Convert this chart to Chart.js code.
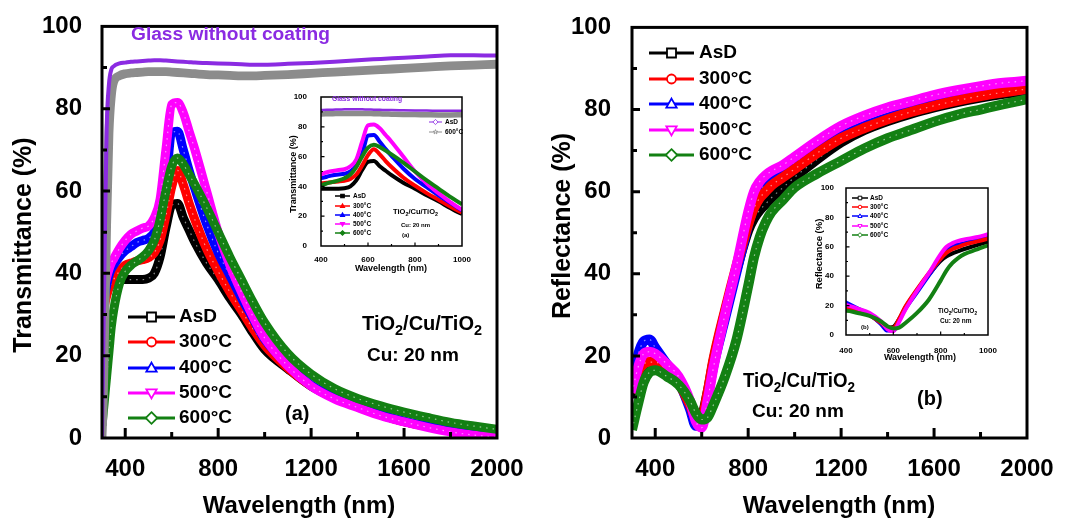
<!DOCTYPE html>
<html>
<head>
<meta charset="utf-8">
<script src="https://cdn.jsdelivr.net/npm/chart.js@4.4.1/dist/chart.umd.min.js"></script>
<style>
  body { margin: 0; background: #fff; }
  #page { position: relative; width: 1067px; height: 519px; overflow: hidden; background: #fff; }
  canvas { position: absolute; }
</style>
</head>
<body>
<div id="page">
  <canvas id="transChart" width="540" height="519" style="left:0;top:0"></canvas>
  <canvas id="reflChart" width="527" height="519" style="left:540px;top:0"></canvas>
  <canvas id="transInset" width="195" height="190" style="left:280px;top:85px"></canvas>
  <canvas id="reflInset" width="195" height="195" style="left:805px;top:176px"></canvas>
</div>
<script>
// Series labels / colours
const seriesLabels = ['AsD', '300°C', '400°C', '500°C', '600°C'];
const seriesColors = ['#000000', '#ff0000', '#0000ff', '#ff00ff', '#138013'];
const seriesShapes = ['square', 'circle', 'triUp', 'triDown', 'diamond'];
const glassPurple = '#8b2be2';
const glassGray = '#8c8c8c';

// Transmittance (panel a)
const wlT = [300, 305, 310, 320, 330, 340, 350, 375, 400, 425, 450, 475, 500, 525, 550, 575, 600, 625, 650, 675,
             700, 750, 800, 850, 900, 950, 1000, 1100, 1200, 1300, 1400, 1500, 1600, 1700, 1800, 1900, 2000];
const glassBare = [0, 20, 40, 75, 86, 89.5, 90.3, 91, 91.2, 91.4, 91.5, 91.6, 91.7, 91.8, 91.8, 91.7, 91.6, 91.5, 91.4, 91.3,
                   91.2, 91.1, 91, 90.9, 90.8, 90.7, 90.7, 90.9, 91.1, 91.4, 91.8, 92.1, 92.4, 92.7, 93, 93, 92.9];
const glass600 = [0, 8, 22, 52, 74, 83, 86.5, 88, 88.5, 88.7, 88.8, 88.9, 89, 89, 89, 89, 88.9, 88.8, 88.7, 88.6,
                  88.5, 88.3, 88.2, 88.1, 88, 88, 88.1, 88.3, 88.6, 88.9, 89.2, 89.5, 89.8, 90.1, 90.4, 90.6, 90.8];
const transAsD = [30, 31.5, 33, 35, 36.5, 37.5, 38, 38.5, 38.5, 38.5, 38.5, 38.5, 38.8, 40, 44, 51, 56.5, 57, 53.5, 50.5,
                  47.5, 42.5, 38.5, 34, 30, 25.5, 21.5, 16.8, 12.6, 9.8, 7.6, 5.6, 4, 2.8, 1.7, 0.9, 0.3];
const trans300 = [28, 30, 32, 34.5, 36.5, 37.5, 38.5, 40.5, 42, 42.5, 43, 43.3, 43.8, 45, 48, 54, 61, 65, 61.5, 57,
                  53, 46, 40.5, 35.5, 31, 26.5, 22.5, 17, 12.7, 9.8, 7.6, 5.6, 4, 2.8, 1.7, 0.9, 0.3];
const trans400 = [30, 32, 34, 37, 39.5, 41, 42, 44, 45.5, 46.5, 47.5, 48, 48.5, 50, 54, 62, 74, 74.5, 70, 65,
                  60.5, 52, 45, 39.5, 34, 29, 24, 17.8, 12.9, 9.9, 7.7, 5.7, 4.1, 2.9, 1.8, 1, 0.4];
const trans500 = [32, 34, 36, 39, 41, 42.5, 43.5, 46, 48, 49.5, 50.3, 51, 51.5, 53.5, 58, 70, 81, 81.5, 79, 74.5,
                  70, 60, 50, 42, 35.5, 29.5, 24.3, 17.5, 12.6, 9.5, 7.4, 5.4, 3.9, 2.6, 1.5, 0.7, 0.2];
const trans600 = [3, 6, 9, 15, 21, 27, 31, 37.5, 40.5, 42, 43, 44, 45.5, 48, 53, 60, 66, 68, 66.5, 64,
                  61.5, 56, 50, 44, 38.5, 33, 28, 20.5, 15.5, 12, 9.6, 7.8, 6.3, 5, 3.8, 2.9, 2.1];

// Reflectance (panel b)
const wlR = [300, 325, 350, 375, 400, 450, 500, 550, 575, 600, 625, 650, 700, 750, 800, 825, 850, 875, 900, 950,
             1000, 1100, 1200, 1300, 1400, 1500, 1600, 1700, 1800, 1900, 2000];
const reflAsD = [10, 15, 17.5, 18, 17.5, 16, 13.5, 8, 5, 5.5, 11, 18.5, 30.5, 41, 50.5, 53.5, 55.5, 57, 58.5, 61,
                 63.5, 68, 72, 75, 77.2, 79, 80.5, 81.8, 82.9, 83.8, 84.5];
const refl300 = [11, 16, 18, 18.5, 18.5, 16.5, 13.5, 8, 5, 5, 11, 19, 31, 42, 52, 56, 58.5, 60, 61.5, 63.5,
                 65.5, 69.5, 73, 75.5, 77.6, 79.4, 80.9, 82.2, 83.3, 84.2, 85];
const refl400 = [13, 20, 23.5, 24, 22, 18, 14, 7, 3, 3, 10, 17.5, 29, 40.5, 52, 57.5, 60.5, 61.5, 62.5, 64.5,
                 67, 70.5, 73.5, 76, 78, 79.8, 81.3, 82.6, 83.6, 84.4, 85];
const refl500 = [11, 17, 20.5, 21, 20.5, 18, 15, 9, 4, 2.5, 9, 17, 30, 42, 55, 60, 62.5, 64, 65, 66.5,
                 68.5, 72.5, 76, 78.5, 80.5, 82, 83.5, 84.7, 85.7, 86.5, 87];
const refl600 = [2, 8, 13.5, 16, 16.5, 15, 13, 9, 6, 4.5, 5, 8, 15, 24, 37, 44, 49, 52.5, 55, 58,
                 61, 64.5, 67.5, 70.5, 73, 75, 77, 78.7, 80, 81.3, 82.5];

// Ticks
const xTickLabels = [400, 800, 1200, 1600, 2000];
const xMinorTicks = [600, 1000, 1400, 1800];
const yTickLabels = [0, 20, 40, 60, 80, 100];
const yMinorTicks = [10, 30, 50, 70, 90];
const insetXTickLabels = [400, 600, 800, 1000];
const insetXMinorTicks = [500, 700, 900];

const FONT = '"Liberation Sans", Arial, sans-serif';
const fontStr = (size, weight) => `${weight || 'bold'} ${size}px ${FONT}`;
const pts = (xs, ys) => xs.map((x, i) => ({ x: x, y: ys[i] }));

function drawMarker(ctx, shape, x, y, r, stroke, fill, lw) {
  ctx.beginPath();
  if (shape === 'square') {
    ctx.rect(x - r, y - r, 2 * r, 2 * r);
  } else if (shape === 'circle') {
    ctx.arc(x, y, r, 0, Math.PI * 2);
  } else if (shape === 'triUp') {
    ctx.moveTo(x, y - r * 1.2); ctx.lineTo(x + r * 1.15, y + r * 0.8); ctx.lineTo(x - r * 1.15, y + r * 0.8); ctx.closePath();
  } else if (shape === 'triDown') {
    ctx.moveTo(x, y + r * 1.2); ctx.lineTo(x + r * 1.15, y - r * 0.8); ctx.lineTo(x - r * 1.15, y - r * 0.8); ctx.closePath();
  } else if (shape === 'diamond') {
    ctx.moveTo(x, y - r * 1.3); ctx.lineTo(x + r * 1.3, y); ctx.lineTo(x, y + r * 1.3); ctx.lineTo(x - r * 1.3, y); ctx.closePath();
  } else if (shape === 'star') {
    for (let k = 0; k < 10; k++) {
      const rr = k % 2 ? r * 0.45 : r * 1.2;
      const a = -Math.PI / 2 + k * Math.PI / 5;
      k ? ctx.lineTo(x + rr * Math.cos(a), y + rr * Math.sin(a)) : ctx.moveTo(x + rr * Math.cos(a), y + rr * Math.sin(a));
    }
    ctx.closePath();
  }
  ctx.fillStyle = fill; ctx.fill();
  ctx.strokeStyle = stroke; ctx.lineWidth = lw; ctx.stroke();
}

function drawText(ctx, t) {
  const parts = t.parts || [[t.text, 0]];
  const subSize = t.size * 0.72;
  ctx.save();
  ctx.fillStyle = t.color || '#000';
  ctx.textBaseline = 'middle';
  ctx.textAlign = 'left';
  let total = 0;
  const widths = parts.map(([s, sub]) => {
    ctx.font = fontStr(sub ? subSize : t.size, t.weight);
    const w = ctx.measureText(s).width;
    total += w;
    return w;
  });
  ctx.translate(t.x, t.y);
  if (t.rot) ctx.rotate(t.rot * Math.PI / 180);
  if (t.w) ctx.scale(t.w / total, 1);
  let x = t.align === 'center' ? -total / 2 : 0;
  parts.forEach(([s, sub], i) => {
    ctx.font = fontStr(sub ? subSize : t.size, t.weight);
    ctx.fillText(s, x, sub ? t.size * 0.32 : 0);
    x += widths[i];
  });
  ctx.restore();
}

function drawLegend(ctx, L) {
  L.items.forEach((it, i) => {
    const y = L.ys[i];
    ctx.strokeStyle = it.color; ctx.lineWidth = L.lw;
    ctx.beginPath(); ctx.moveTo(L.x1, y); ctx.lineTo(L.x2, y); ctx.stroke();
    drawMarker(ctx, it.shape, (L.x1 + L.x2) / 2, y, L.r, it.color, L.filled ? it.color : '#fff', L.mlw || L.lw * 0.7);
    ctx.fillStyle = '#000'; ctx.font = fontStr(L.size); ctx.textBaseline = 'middle'; ctx.textAlign = 'left';
    ctx.fillText(it.label, L.lx, y);
  });
}

// frame, inward ticks, legends and labels
function decor(cfg) {
  return {
    id: 'decor',
    afterDraw(chart) {
      const ctx = chart.ctx, a = chart.chartArea, xs = chart.scales.x, ys = chart.scales.y;
      ctx.save();
      ctx.strokeStyle = '#000';
      ctx.lineWidth = cfg.tickWidth;
      ctx.beginPath();
      cfg.xMajor.concat(cfg.xMinor).forEach(v => {
        const px = xs.getPixelForValue(v);
        const len = cfg.xMajor.includes(v) ? cfg.xLen[0] : cfg.xLen[1];
        ctx.moveTo(px, a.bottom); ctx.lineTo(px, a.bottom - len);
      });
      cfg.yMajor.concat(cfg.yMinor).forEach(v => {
        const py = ys.getPixelForValue(v);
        const len = cfg.yMajor.includes(v) ? cfg.yLen[0] : cfg.yLen[1];
        ctx.moveTo(a.left, py); ctx.lineTo(a.left + len, py);
      });
      ctx.stroke();
      ctx.lineWidth = cfg.frame;
      ctx.strokeRect(a.left, a.top, a.right - a.left, a.bottom - a.top);
      (cfg.legends || []).forEach(L => drawLegend(ctx, L));
      (cfg.texts || []).forEach(t => drawText(ctx, t));
      ctx.restore();
    }
  };
}

function makeChart(id, opt) {
  const tickFont = { family: FONT, size: opt.tickSize, weight: 'bold' };
  return new Chart(document.getElementById(id), {
    type: 'line',
    data: { datasets: opt.datasets },
    options: {
      responsive: false,
      animation: false,
      events: [],
      layout: { padding: opt.pad },
      elements: {
        point: { radius: 0 },
        line: { cubicInterpolationMode: 'monotone', borderCapStyle: 'butt', borderJoinStyle: 'round' }
      },
      plugins: { legend: { display: false }, tooltip: { enabled: false } },
      scales: {
        x: {
          type: 'linear', min: opt.xMin, max: opt.xMax,
          grid: { display: false }, border: { display: false },
          afterFit: s => { s.height = opt.xH; },
          afterBuildTicks: s => { s.ticks = opt.xLabels.map(v => ({ value: v })); },
          ticks: { padding: opt.xPad, autoSkip: false, maxRotation: 0, color: '#000', font: tickFont, callback: v => String(v) }
        },
        y: {
          type: 'linear', min: 0, max: 100,
          grid: { display: false }, border: { display: false },
          afterFit: s => { s.width = opt.yW; },
          afterBuildTicks: s => { s.ticks = yTickLabels.map(v => ({ value: v })); },
          ticks: { padding: opt.yPad, color: '#000', font: tickFont, callback: v => String(v) }
        }
      }
    },
    plugins: [decor(opt.decor)]
  });
}

const transSeries = [transAsD, trans300, trans400, trans500, trans600];
const reflSeries = [reflAsD, refl300, refl400, refl500, refl600];
const transOrder = [8, 6, 4, 2, 0];
const reflOrder = [8, 4, 6, 2, 0];

// thick band per series plus a faint dotted white core to hint at the open markers
function seriesSets(xs, series, order, width, texture) {
  const sets = [];
  series.forEach((vals, i) => {
    sets.push({ data: pts(xs, vals), borderColor: seriesColors[i], borderWidth: width, order: order[i], clip: 0 });
    if (texture) {
      sets.push({ data: pts(xs, vals), borderColor: 'rgba(255,255,255,0.55)', borderWidth: 1.2,
                  borderDash: [1.5, 5], order: order[i] - 1, clip: 0 });
    }
  });
  return sets;
}
function glassSets(width) {
  return [
    { data: pts(wlT, glass600), borderColor: glassGray, borderWidth: width * 2.2, order: -1, clip: 0 },
    { data: pts(wlT, glassBare), borderColor: glassPurple, borderWidth: width, order: -2, clip: 0 }
  ];
}

const mainItems = seriesLabels.map((label, i) => ({ label: label, color: seriesColors[i], shape: seriesShapes[i] }));
const insetItemsT = seriesLabels.map((label, i) => ({ label: label, color: seriesColors[i], shape: ['square', 'triUp', 'triUp', 'triDown', 'diamond'][i] }));
const glassItems = [{ label: 'AsD', color: glassPurple, shape: 'diamond' }, { label: '600°C', color: glassGray, shape: 'star' }];
const tio2 = [['TiO', 0], ['2', 1], ['/Cu/TiO', 0], ['2', 1]];

// Panel (a) transmittance
makeChart('transChart', {
  datasets: glassSets(4).concat(seriesSets(wlT, transSeries, transOrder, 9, true)),
  pad: { left: 0, top: 22, right: 43, bottom: 0 },
  xMin: 300, xMax: 2000, xLabels: xTickLabels, xH: 81, yW: 102, xPad: 9, yPad: 12, tickSize: 24,
  decor: {
    frame: 3, tickWidth: 3, xMajor: xTickLabels.slice(0, 4), xMinor: xMinorTicks, yMajor: [20, 40, 60, 80], yMinor: yMinorTicks,
    xLen: [10, 6], yLen: [8, 5],
    legends: [{ items: mainItems, x1: 128, x2: 175, lx: 179, ys: [317, 342, 368, 393, 418], r: 4.5, lw: 3, mlw: 1.8, size: 19 }],
    texts: [
      { text: 'Transmittance (%)', x: 24, y: 245, size: 25, rot: -90, align: 'center' },
      { text: 'Wavelength (nm)', x: 299, y: 506, size: 24, align: 'center' },
      { text: 'Glass without coating', x: 131, y: 35, size: 18, color: glassPurple, w: 199 },
      { parts: tio2, x: 362, y: 324, size: 21, w: 120 },
      { text: 'Cu: 20 nm', x: 367, y: 356, size: 19 },
      { text: '(a)', x: 285, y: 414, size: 20 }
    ]
  }
});

// Panel (b) reflectance
makeChart('reflChart', {
  datasets: seriesSets(wlR, reflSeries, reflOrder, 10, true),
  pad: { left: 0, top: 22, right: 40, bottom: 0 },
  xMin: 300, xMax: 2000, xLabels: xTickLabels, xH: 81, yW: 92, xPad: 9, yPad: 13, tickSize: 24,
  decor: {
    frame: 3, tickWidth: 3, xMajor: xTickLabels.slice(0, 4), xMinor: xMinorTicks, yMajor: [20, 40, 60, 80], yMinor: yMinorTicks,
    xLen: [10, 6], yLen: [8, 5],
    legends: [{ items: mainItems, x1: 109, x2: 154, lx: 159, ys: [53, 79, 104, 130, 155], r: 4.5, lw: 3, mlw: 1.8, size: 19 }],
    texts: [
      { text: 'Reflectance (%)', x: 23, y: 226, size: 25, rot: -90, align: 'center' },
      { text: 'Wavelength (nm)', x: 299, y: 506, size: 24, align: 'center' },
      { parts: tio2, x: 203, y: 381, size: 21, w: 112 },
      { text: 'Cu: 20 nm', x: 212, y: 412, size: 19 },
      { text: '(b)', x: 377, y: 399, size: 20 }
    ]
  }
});

// Inset of panel (a)
makeChart('transInset', {
  datasets: glassSets(2.5).concat(seriesSets(wlT, transSeries, transOrder, 4, false)),
  pad: { left: 0, top: 12, right: 13, bottom: 0 },
  xMin: 400, xMax: 1000, xLabels: insetXTickLabels, xH: 29, yW: 41, xPad: 1, yPad: 6, tickSize: 8,
  decor: {
    frame: 1.5, tickWidth: 1.2, xMajor: [600, 800], xMinor: insetXMinorTicks, yMajor: [20, 40, 60, 80], yMinor: yMinorTicks,
    xLen: [3.5, 2], yLen: [3.5, 2],
    legends: [
      { items: insetItemsT, x1: 55, x2: 70, lx: 73, ys: [111, 121, 130, 139, 148], r: 1.8, lw: 1.5, filled: true, size: 6.5 },
      { items: glassItems, x1: 149, x2: 162, lx: 165, ys: [37, 47], r: 2, lw: 1, mlw: 0.8, size: 6.5 }
    ],
    texts: [
      { text: 'Transmittance (%)', x: 13.5, y: 89, size: 9, rot: -90, align: 'center' },
      { text: 'Wavelength (nm)', x: 111, y: 184, size: 9, align: 'center' },
      { text: 'Glass without coating', x: 52, y: 14.5, size: 7, color: glassPurple, w: 70 },
      { parts: tio2, x: 113, y: 127, size: 7, w: 45 },
      { text: 'Cu: 20 nm', x: 121, y: 140, size: 6 },
      { text: '(a)', x: 122, y: 150, size: 6 }
    ]
  }
});

// Inset of panel (b)
makeChart('reflInset', {
  datasets: seriesSets(wlR, reflSeries, reflOrder, 4, false),
  pad: { left: 0, top: 12, right: 12, bottom: 0 },
  xMin: 400, xMax: 1000, xLabels: insetXTickLabels, xH: 36, yW: 41, xPad: 3, yPad: 4, tickSize: 8,
  decor: {
    frame: 1.5, tickWidth: 1.2, xMajor: [600, 800], xMinor: insetXMinorTicks, yMajor: [20, 40, 60, 80], yMinor: yMinorTicks,
    xLen: [3.5, 2], yLen: [3.5, 2],
    legends: [{ items: mainItems, x1: 47, x2: 63, lx: 65, ys: [22, 31, 40, 50, 59], r: 1.8, lw: 1.5, mlw: 1, size: 6.5 }],
    texts: [
      { text: 'Reflectance (%)', x: 14, y: 78, size: 9.5, rot: -90, align: 'center' },
      { text: 'Wavelength (nm)', x: 115, y: 182, size: 9, align: 'center' },
      { parts: tio2, x: 133, y: 135, size: 7, w: 39 },
      { text: 'Cu: 20 nm', x: 135, y: 145, size: 6.5 },
      { text: '(b)', x: 56, y: 151, size: 6 }
    ]
  }
});
</script>
</body>
</html>
